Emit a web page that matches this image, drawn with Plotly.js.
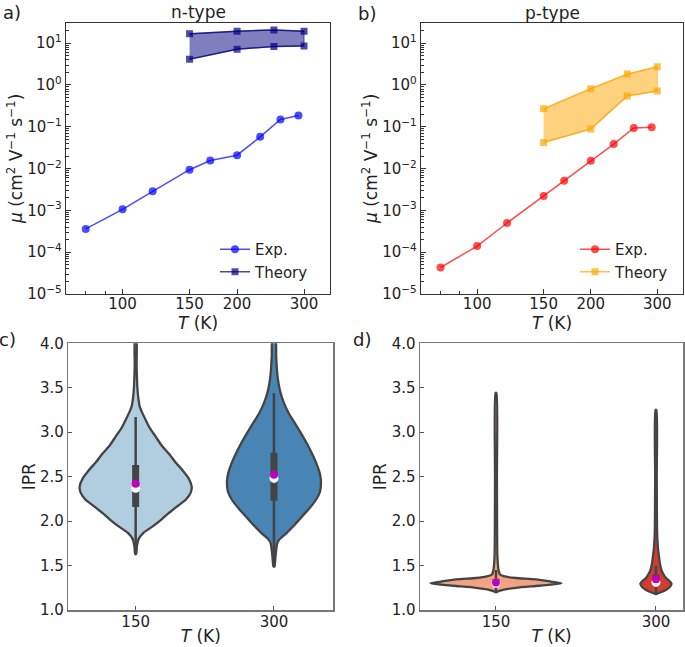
<!DOCTYPE html>
<html>
<head>
<meta charset="utf-8">
<script src="https://cdn.plot.ly/plotly-3.0.1.min.js"></script>
<style>html,body{margin:0;padding:0;background:#fff;}#chart{width:685px;height:647px;}</style>
</head>
<body>
<div id="chart"></div>
<script>
// ---------- data ----------
const T_exp = [80, 100, 120, 150, 170, 200, 230, 260, 290];
const mu_n_exp = [3.6e-4, 1.06e-3, 2.86e-3, 9.4e-3, 1.56e-2, 2.09e-2, 0.0574, 0.150, 0.187];
const mu_p_exp = [4.3e-5, 1.40e-4, 5.0e-4, 2.21e-3, 5.1e-3, 1.55e-2, 0.0385, 0.0935, 0.097];
const T_th = [150, 200, 250, 300];
const mu_n_th_hi = [16.7, 19.4, 20.8, 19.4];
const mu_n_th_lo = [4.13, 7.18, 8.3, 8.6];
const mu_p_th_hi = [0.269, 0.818, 1.82, 2.74];
const mu_p_th_lo = [0.0422, 0.0885, 0.546, 0.72];

const ipr_T_labels = ['150', '300'];
const ipr_pos = [0, 1];
// violin profiles: IPR level and half width (category units)
const c150_ipr = [1.63, 1.72, 1.80, 1.87, 1.94, 2.02, 2.09, 2.17, 2.24, 2.32, 2.39, 2.48, 2.57, 2.66, 2.76, 2.85, 2.95, 3.05, 3.14, 3.22, 3.29, 3.40, 3.51, 3.75, 4.05];
const c150_hw  = [0.004, 0.009, 0.022, 0.058, 0.123, 0.188, 0.239, 0.304, 0.362, 0.398, 0.405, 0.383, 0.340, 0.289, 0.239, 0.188, 0.145, 0.101, 0.072, 0.047, 0.029, 0.018, 0.012, 0.007, 0.005];
const c300_ipr = [1.49, 1.60, 1.75, 1.80, 1.86, 1.95, 2.05, 2.15, 2.24, 2.33, 2.43, 2.50, 2.57, 2.66, 2.76, 2.87, 2.99, 3.10, 3.21, 3.33, 3.44, 3.55, 3.66, 3.85, 4.05];
const c300_hw  = [0.004, 0.011, 0.024, 0.043, 0.087, 0.145, 0.202, 0.260, 0.304, 0.333, 0.340, 0.336, 0.325, 0.304, 0.275, 0.239, 0.195, 0.152, 0.108, 0.072, 0.048, 0.033, 0.024, 0.016, 0.011];
const d150_ipr = [1.20, 1.215, 1.23, 1.25, 1.27, 1.285, 1.30, 1.32, 1.345, 1.36, 1.375, 1.40, 1.45, 1.60, 2.50, 3.44];
const d150_hw  = [0.003, 0.019, 0.05, 0.125, 0.25, 0.344, 0.41, 0.344, 0.25, 0.125, 0.0625, 0.025, 0.016, 0.009, 0.006, 0.003];
const d300_ipr = [1.18, 1.20, 1.225, 1.26, 1.30, 1.33, 1.36, 1.40, 1.45, 1.52, 1.60, 1.70, 1.86, 2.50, 3.25];
const d300_hw  = [0.003, 0.031, 0.0625, 0.0875, 0.097, 0.081, 0.0625, 0.047, 0.034, 0.025, 0.019, 0.0125, 0.0075, 0.005, 0.003];
// inner box statistics
const c_q1 = [2.16, 2.23], c_q3 = [2.63, 2.77];
const c_wlo = [1.64, 1.49], c_whi = [3.17, 3.44];
const c_median = [2.37, 2.48], c_mean = [2.42, 2.52];
const d_q1 = [1.28, 1.28], d_q3 = [1.35, 1.40];
const d_wlo = [1.21, 1.19], d_whi = [1.45, 1.50];
const d_median = [1.30, 1.31], d_mean = [1.31, 1.345];

// ---------- styling ----------
const FONT = 'DejaVu Sans, sans-serif';
const DARK = '#444444';
const W = 685, H = 647;
const px = v => v / W, py = v => 1 - v / H;

function sc(x, y, opts) { return Object.assign({type: 'scatter', x: x, y: y}, opts); }

const traces = [];
function mobility(xa, ya, legend, expY, hi, lo, expCol, thCol, fillCol) {
  // fill between theory bounds (polygon built from the two bound series)
  traces.push(sc(T_th.concat(T_th.slice().reverse()), hi.concat(lo.slice().reverse()), {
    xaxis: xa, yaxis: ya, mode: 'lines', fill: 'toself', fillcolor: fillCol,
    line: {color: fillCol, width: 1.2}, showlegend: false, hoverinfo: 'skip'}));
  traces.push(sc(T_exp, expY, {xaxis: xa, yaxis: ya, mode: 'lines+markers', name: 'Exp.', legend: legend,
    line: {color: expCol, width: 1.5}, marker: {symbol: 'circle', size: 8, color: expCol}}));
  traces.push(sc(T_th, hi, {xaxis: xa, yaxis: ya, mode: 'lines+markers', name: 'Theory', legend: legend,
    line: {color: thCol, width: 1.5}, marker: {symbol: 'square', size: 7, color: thCol}}));
  traces.push(sc(T_th, lo, {xaxis: xa, yaxis: ya, mode: 'lines+markers', name: 'Theory', legend: legend, showlegend: false,
    line: {color: thCol, width: 1.5}, marker: {symbol: 'square', size: 7, color: thCol}}));
}
mobility('x', 'y', 'legend', mu_n_exp, mu_n_th_hi, mu_n_th_lo, 'rgba(0,0,255,0.7)', 'rgba(0,0,128,0.7)', 'rgba(0,0,128,0.5)');
mobility('x2', 'y2', 'legend2', mu_p_exp, mu_p_th_hi, mu_p_th_lo, 'rgba(255,0,0,0.7)', 'rgba(255,165,0,0.7)', 'rgba(255,165,0,0.5)');

function violin(xa, ya, center, ys, hws, fillCol, q1, q3, wlo, whi, med, mean) {
  const xs = [], yy = [];
  for (let i = 0; i < ys.length; i++) { xs.push(center + hws[i]); yy.push(ys[i]); }
  for (let i = ys.length - 1; i >= 0; i--) { xs.push(center - hws[i]); yy.push(ys[i]); }
  xs.push(xs[0]); yy.push(yy[0]);
  traces.push(sc(xs, yy, {xaxis: xa, yaxis: ya, mode: 'lines', fill: 'toself', fillcolor: fillCol,
    line: {color: DARK, width: 2.3, shape: 'spline', smoothing: 0.6}, showlegend: false, hoverinfo: 'skip'}));
  traces.push(sc([center, center], [wlo, whi], {xaxis: xa, yaxis: ya, mode: 'lines', line: {color: DARK, width: 2.5}, showlegend: false}));
  traces.push(sc([center, center], [q1, q3], {xaxis: xa, yaxis: ya, mode: 'lines', line: {color: DARK, width: 7}, showlegend: false}));
  traces.push(sc([center], [med], {xaxis: xa, yaxis: ya, mode: 'markers', marker: {color: 'white', size: 9}, showlegend: false}));
  traces.push(sc([center], [mean], {xaxis: xa, yaxis: ya, mode: 'markers', marker: {color: 'rgb(191,0,191)', size: 8}, showlegend: false}));
}
violin('x3', 'y3', ipr_pos[0], c150_ipr, c150_hw, '#b1cde0', c_q1[0], c_q3[0], c_wlo[0], c_whi[0], c_median[0], c_mean[0]);
violin('x3', 'y3', ipr_pos[1], c300_ipr, c300_hw, '#4884b4', c_q1[1], c_q3[1], c_wlo[1], c_whi[1], c_median[1], c_mean[1]);
violin('x4', 'y4', ipr_pos[0], d150_ipr, d150_hw, '#f2a384', d_q1[0], d_q3[0], d_wlo[0], d_whi[0], d_median[0], d_mean[0]);
violin('x4', 'y4', ipr_pos[1], d300_ipr, d300_hw, '#d43d2e', d_q1[1], d_q3[1], d_wlo[1], d_whi[1], d_median[1], d_mean[1]);

// ---------- axes ----------
const yMajor = [1e-5, 1e-4, 1e-3, 1e-2, 1e-1, 1, 10];
const yMajorText = yMajor.map(v => '10<sup>' + String(Math.round(Math.log10(v))).replace('-', '\u2212') + '</sup>');
const yMinor = [];
for (let d = -5; d <= 1; d++) for (let k = 2; k <= 9; k++) if (k * Math.pow(10, d) < 31) yMinor.push(k * Math.pow(10, d));
const xMajor = [100, 150, 200, 300];
const xMinor = [80, 90];

const tickFont = {family: FONT, size: 15, color: '#222'};
const titleFont = {family: FONT, size: 17, color: '#222'};
function logX(domain, anchor) {
  return {type: 'log', domain: domain, anchor: anchor, range: [Math.log10(71), Math.log10(351)],
    showline: true, mirror: true, linecolor: '#333', linewidth: 1.2, showgrid: false, zeroline: false,
    ticks: 'inside', ticklen: 5, tickwidth: 1, tickcolor: '#333', tickfont: tickFont, ticklabelstandoff: -4,
    tickmode: 'array', tickvals: xMajor, ticktext: xMajor.map(String),
    minor: {tickmode: 'array', tickvals: xMinor, ticks: 'inside', ticklen: 3, tickcolor: '#333'},
    title: {text: '<i>T</i> (K)', font: titleFont, standoff: 0}};
}
function logY(domain, anchor) {
  return {type: 'log', domain: domain, anchor: anchor, range: [-5, 1.49],
    showline: true, mirror: true, linecolor: '#333', linewidth: 1.2, showgrid: false, zeroline: false,
    ticks: 'inside', ticklen: 5, tickwidth: 1, tickcolor: '#333', tickfont: tickFont,
    tickmode: 'array', tickvals: yMajor, ticktext: yMajorText,
    minor: {tickmode: 'array', tickvals: yMinor, ticks: 'inside', ticklen: 2.5, tickcolor: '#333'},
    title: {text: '<i>μ</i> (cm<sup>2</sup> V<sup>\u22121</sup> s<sup>\u22121</sup>)', font: titleFont, standoff: 0}};
}
function catX(domain, anchor, range) {
  return {domain: domain, anchor: anchor, range: range, showline: true, mirror: true, linecolor: '#777', linewidth: 1.5,
    showgrid: false, zeroline: false, ticks: 'inside', ticklen: 4, tickcolor: '#555', tickfont: tickFont, ticklabelstandoff: -3,
    tickmode: 'array', tickvals: ipr_pos, ticktext: ipr_T_labels,
    title: {text: '<i>T</i> (K)', font: titleFont, standoff: 0}};
}
function iprY(domain, anchor) {
  return {domain: domain, anchor: anchor, range: [1, 4], showline: true, mirror: true, linecolor: '#777', linewidth: 1.5,
    showgrid: false, zeroline: false, ticks: 'inside', ticklen: 4, tickcolor: '#555', tickfont: tickFont,
    tickmode: 'array', tickvals: [1, 1.5, 2, 2.5, 3, 3.5, 4], ticktext: ['1.0', '1.5', '2.0', '2.5', '3.0', '3.5', '4.0'],
    title: {text: 'IPR', font: titleFont, standoff: 0}};
}

const yTop = [py(294), py(22.7)];
const yBot = [py(610), py(343.3)];
const lab = {family: FONT, size: 18, color: '#222'};
function note(text, x, y, font) {
  return {text: text, x: px(x), y: py(y), xref: 'paper', yref: 'paper', xanchor: 'center', yanchor: 'middle', showarrow: false, font: font};
}
const layout = {
  width: W, height: H, margin: {l: 0, r: 0, t: 0, b: 0},
  paper_bgcolor: 'white', plot_bgcolor: 'white',
  font: {family: FONT, size: 15, color: '#222'},
  xaxis: logX([px(66), px(330)], 'y'),
  yaxis: logY(yTop, 'x'),
  xaxis2: logX([px(421), px(683)], 'y2'),
  yaxis2: logY(yTop, 'x2'),
  xaxis3: catX([px(68.3), px(333.3)], 'y3', [-0.487, 1.429]),
  yaxis3: iprY(yBot, 'x3'),
  xaxis4: catX([px(420), px(683.3)], 'y4', [-0.475, 1.171]),
  yaxis4: iprY(yBot, 'x4'),
  legend: {x: px(215), y: py(233), xanchor: 'left', yanchor: 'top', bgcolor: 'rgba(0,0,0,0)', font: {family: FONT, size: 15, color: '#222'}},
  legend2: {x: px(575), y: py(233), xanchor: 'left', yanchor: 'top', bgcolor: 'rgba(0,0,0,0)', font: {family: FONT, size: 15, color: '#222'}},
  annotations: [
    note('n-type', 198, 12, titleFont),
    note('p-type', 552, 13, titleFont),
    note('a)', 12, 12, lab),
    note('b)', 367, 13, lab),
    note('c)', 8, 339, lab),
    note('d)', 362, 339, lab)
  ]
};

Plotly.newPlot('chart', traces, layout, {staticPlot: true, displayModeBar: false});
</script>
</body>
</html>
